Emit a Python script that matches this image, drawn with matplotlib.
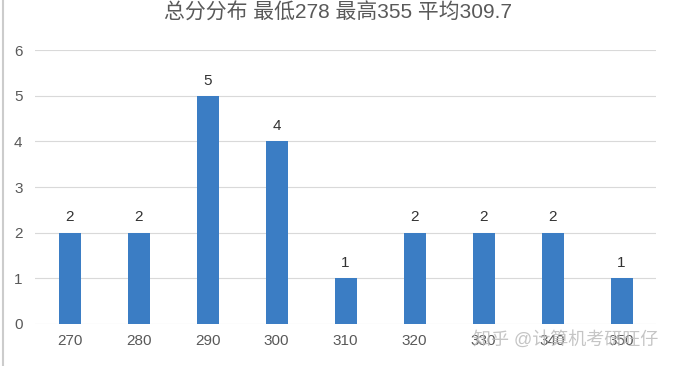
import numpy as np
import matplotlib.pyplot as plt

plt.rcParams['font.family'] = ['Liberation Sans', 'Noto Sans CJK SC', 'DejaVu Sans']

scores = ['270', '280', '290', '300', '310', '320', '330', '340', '350']
counts = [2, 2, 5, 4, 1, 2, 2, 2, 1]

fig = plt.figure(figsize=(6.75, 3.66), dpi=100)
ax = fig.add_axes([0.052, 0.115, 0.92, 0.748])

x = np.arange(len(scores))
bars = ax.bar(x, counts, width=0.32, color='#3b7dc4', zorder=2)
for xi, c in zip(x, counts):
    ax.text(xi, c + 0.18, str(c), ha='center', va='bottom', fontsize=11, color='#333333')

ax.set_xlim(-0.5, len(scores) - 0.5)
ax.set_ylim(0, 6)
ax.set_yticks(range(7))
ax.set_xticks(x)
ax.set_xticklabels(scores)
ax.grid(axis='y', color='#d9d9d9', linewidth=0.8, zorder=0)
for s in ax.spines.values():
    s.set_visible(False)
ax.tick_params(length=0, labelsize=11, labelcolor='#595959')
ax.tick_params(axis='y', pad=9)
ax.tick_params(axis='x', pad=7)

fig.text(0.5, 0.965, '总分分布 最低278 最高355 平均309.7', ha='center', va='center',
         fontsize=15, color='#595959')
# watermark from the source image
fig.text(0.975, 0.07, '知乎 @计算机考研旺仔', ha='right', va='center',
         fontsize=13, color='#bbbbbb', alpha=0.85)
fig.add_artist(plt.Line2D([0.005, 0.005], [0, 1], color='#cccccc', linewidth=1.5))

fig.savefig('out.png', dpi=100)
